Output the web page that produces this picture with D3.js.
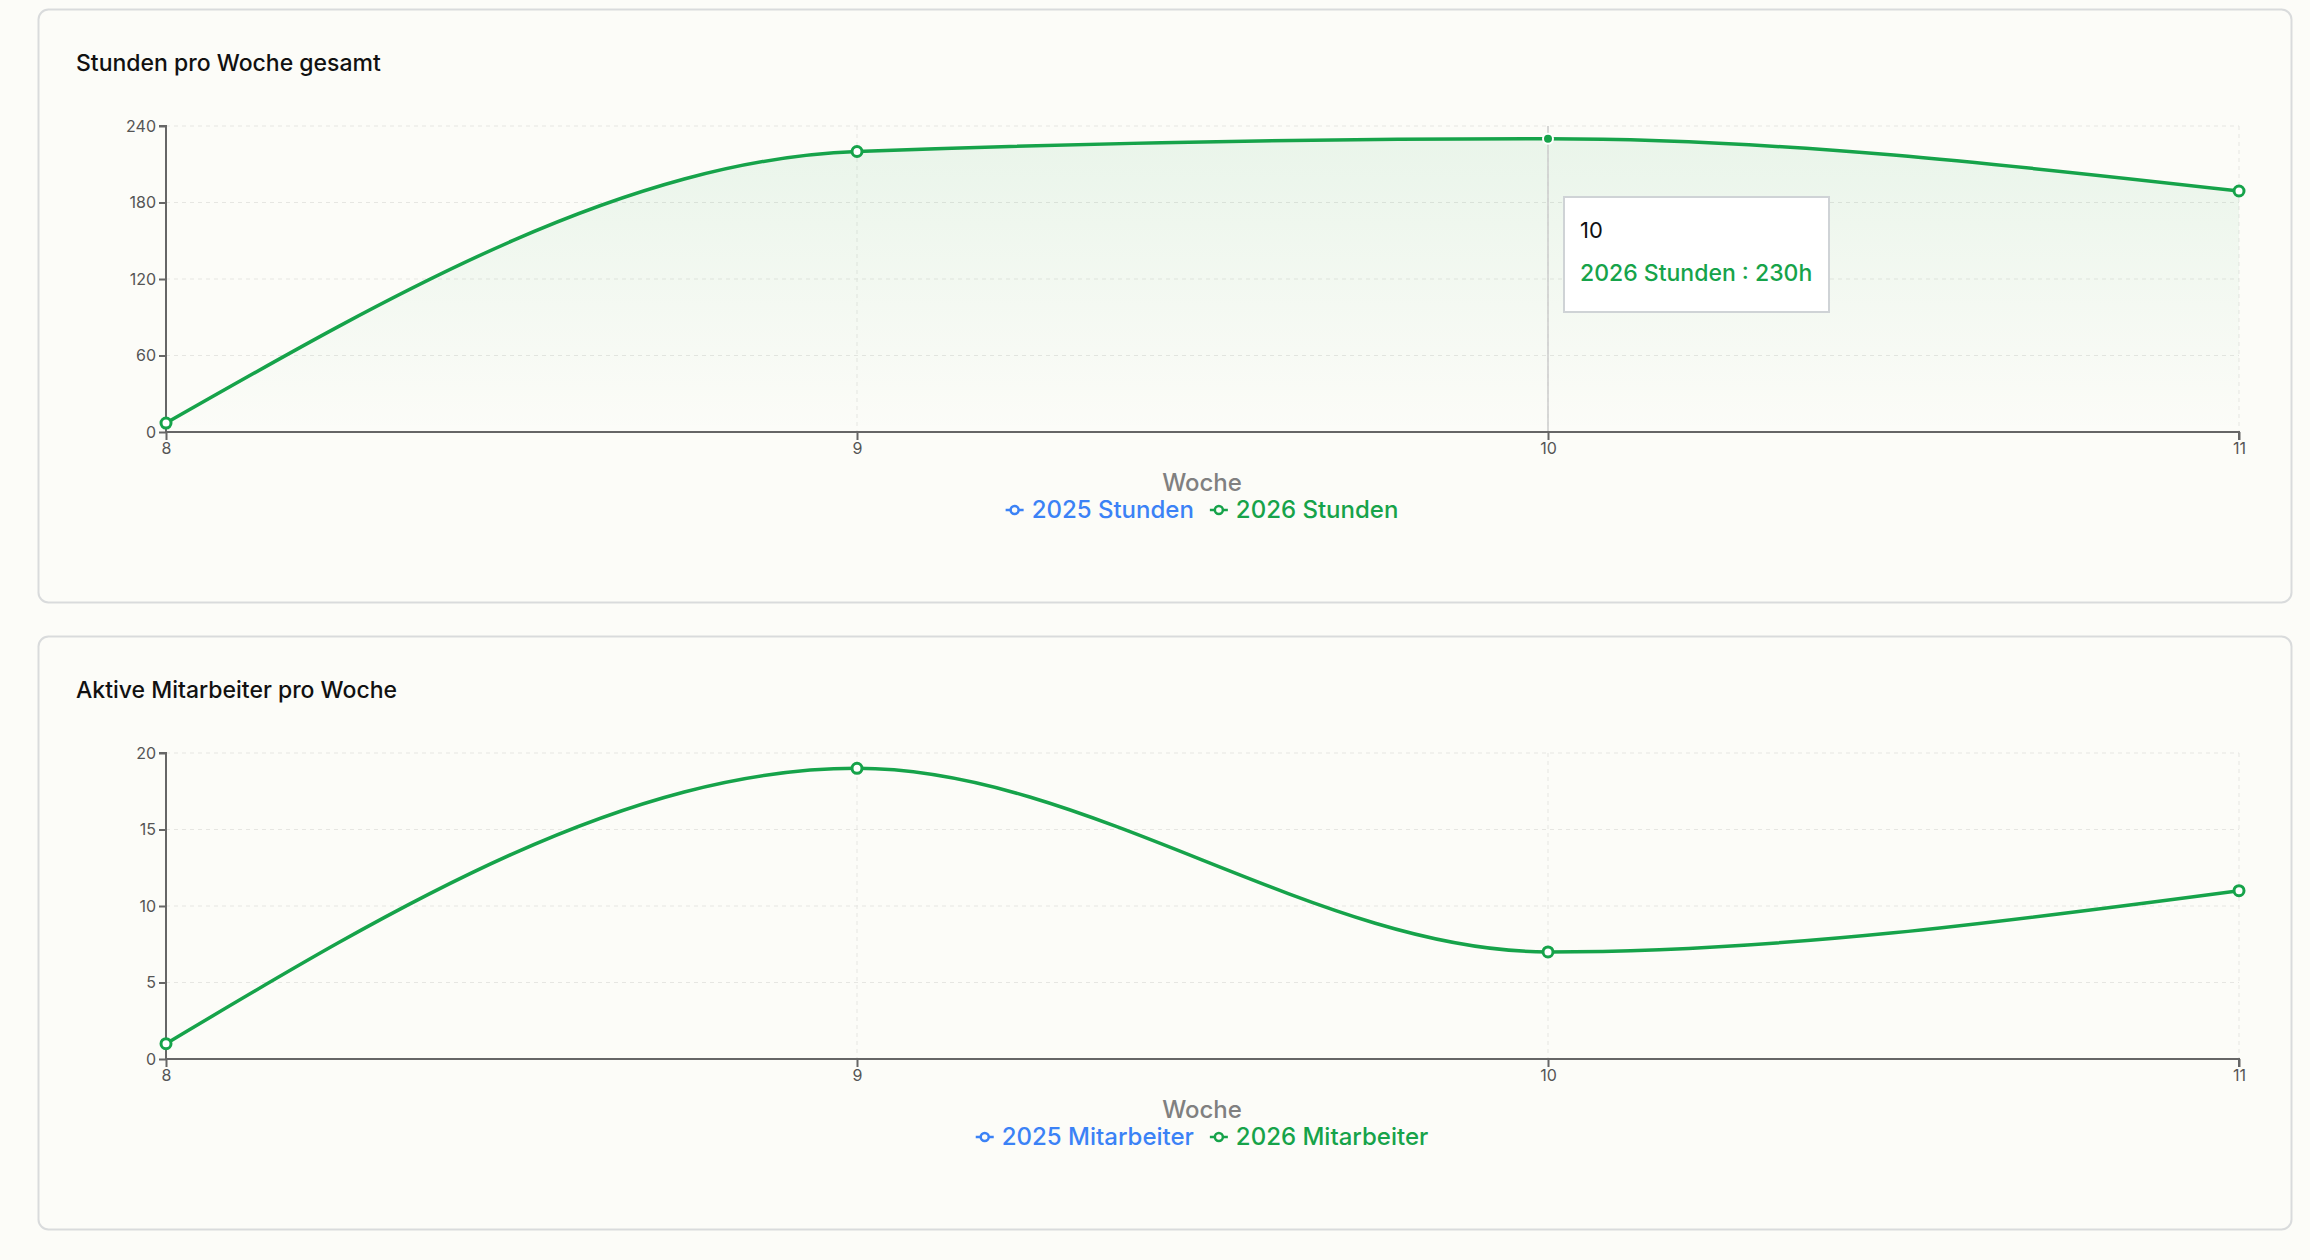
<!DOCTYPE html>
<html><head><meta charset="utf-8">
<script src="https://cdn.jsdelivr.net/npm/d3@7"></script>
<style>
body{margin:0;background:#fcfcf8;font-family:Inter,"Noto Sans",sans-serif;}
</style></head><body>
<svg id="c" width="2310" height="1260"></svg>
<script>
const weeks=[8,9,10,11];
const hours2026=[7,220,230,189];
const staff2026=[1,19,7,11];
const hourTicks=[0,60,120,180,240];
const staffTicks=[0,5,10,15,20];
const titles=["Stunden pro Woche gesamt","Aktive Mitarbeiter pro Woche"];
const legend1=["2025 Stunden","2026 Stunden"];
const legend2=["2025 Mitarbeiter","2026 Mitarbeiter"];
const blue="#3b82f6",green="#16a34a";
const svg=d3.select("#c");
const defs=svg.append("defs");
const g=defs.append("linearGradient").attr("id","gr").attr("x1",0).attr("y1",0).attr("x2",0).attr("y2",1);
g.append("stop").attr("offset","0%").attr("stop-color","#16a34a").attr("stop-opacity",0.08);
g.append("stop").attr("offset","100%").attr("stop-color","#16a34a").attr("stop-opacity",0.0);

function chart(top,title,vals,ticks,legend,fill,tip){
  svg.append("rect").attr("x",38.5).attr("y",top+0.5).attr("width",2253).attr("height",593).attr("rx",10)
    .attr("fill","#fcfcf8").attr("stroke","#d9dbdc").attr("stroke-width",2);
  svg.append("text").attr("x",76).attr("y",top+62).attr("font-size",23).attr("font-weight",500).attr("fill","#111").text(title);
  const x=d3.scaleLinear().domain([8,11]).range([166,2239]);
  const y=d3.scaleLinear().domain([0,ticks[ticks.length-1]]).range([top+423,top+117]);
  const gg=svg.append("g");
  ticks.slice(1).forEach(t=>gg.append("line").attr("x1",166).attr("x2",2239).attr("y1",y(t)).attr("y2",y(t)).attr("stroke","#e6e6e2").attr("stroke-dasharray","4 4"));
  weeks.slice(1).forEach(w=>gg.append("line").attr("x1",x(w)).attr("x2",x(w)).attr("y1",y.range()[1]).attr("y2",y(0)).attr("stroke","#e6e6e2").attr("stroke-dasharray","4 4"));
  const data=weeks.map((w,i)=>[w,vals[i]]);
  if(fill) svg.append("path").datum(data).attr("fill","url(#gr)")
    .attr("d",d3.area().curve(d3.curveMonotoneX).x(d=>x(d[0])).y0(y(0)).y1(d=>y(d[1])));
  if(tip) svg.append("line").attr("x1",x(tip)).attr("x2",x(tip)).attr("y1",y.range()[1]).attr("y2",y(0)).attr("stroke","#ccc").attr("stroke-width",1.5);
  const xa=svg.append("g").attr("transform",`translate(0,${y(0)})`).call(d3.axisBottom(x).tickValues(weeks).tickFormat(d3.format("d")).tickSize(8));
  const ya=svg.append("g").attr("transform",`translate(166,0)`).call(d3.axisLeft(y).tickValues(ticks).tickSize(7));
  [xa,ya].forEach(a=>{a.selectAll("path,line").attr("stroke","#666").attr("stroke-width",2);a.selectAll("text").attr("fill","#555").attr("font-size",16).attr("font-family","Inter,sans-serif");});
  ya.select("path").attr("d",`M-7,${y.range()[1]}H0V${y(0)}`);
  xa.select("path").attr("d",`M166,0H2239V8`);
  svg.append("path").datum(data).attr("fill","none").attr("stroke",green).attr("stroke-width",3.5)
    .attr("d",d3.line().curve(d3.curveMonotoneX).x(d=>x(d[0])).y(d=>y(d[1])));
  data.forEach(d=>{
    const act=tip===d[0];
    svg.append("circle").attr("cx",x(d[0])).attr("cy",y(d[1])).attr("r",5)
      .attr("fill",act?green:"#fff").attr("stroke",act?"#fff":green).attr("stroke-width",act?2:3);
  });
  svg.append("text").attr("x",1202).attr("y",top+482).attr("text-anchor","middle").attr("font-size",24).attr("fill","#808080").attr("font-weight",500).text("Woche");
  const lg=svg.append("g");
  const tmp=legend.map((t,i)=>lg.append("text").attr("font-size",24).attr("font-weight",500).attr("fill",i?green:blue).attr("y",top+509).text(t));
  const widths=tmp.map(t=>t.node().getComputedTextLength());
  const total=widths.reduce((a,b)=>a+b,0)+2*26+16;
  let sx=1202-total/2;
  tmp.forEach((t,i)=>{
    const c=i?green:blue, yy=top+501;
    lg.append("line").attr("x1",sx).attr("x2",sx+18).attr("y1",yy).attr("y2",yy).attr("stroke",c).attr("stroke-width",2.5);
    lg.append("circle").attr("cx",sx+9).attr("cy",yy).attr("r",4).attr("fill","#fcfcf8").attr("stroke",c).attr("stroke-width",2.5);
    t.attr("x",sx+26);
    sx+=26+widths[i]+16;
  });
  if(tip){
    const bx=1564,by=top+188;
    svg.append("rect").attr("x",bx).attr("y",by).attr("width",265).attr("height",115).attr("fill","#fff").attr("stroke","#cfd3d6").attr("stroke-width",2);
    svg.append("text").attr("x",bx+16).attr("y",by+41).attr("font-size",22).attr("fill","#111").text(tip);
    svg.append("text").attr("x",bx+16).attr("y",by+84).attr("font-size",23).attr("font-weight",500).attr("fill",green).text(`${legend[1]} : ${vals[weeks.indexOf(tip)]}h`);
  }
}
chart(9,titles[0],hours2026,hourTicks,legend1,true,10);
chart(636,titles[1],staff2026,staffTicks,legend2,false,null);
</script></body></html>
